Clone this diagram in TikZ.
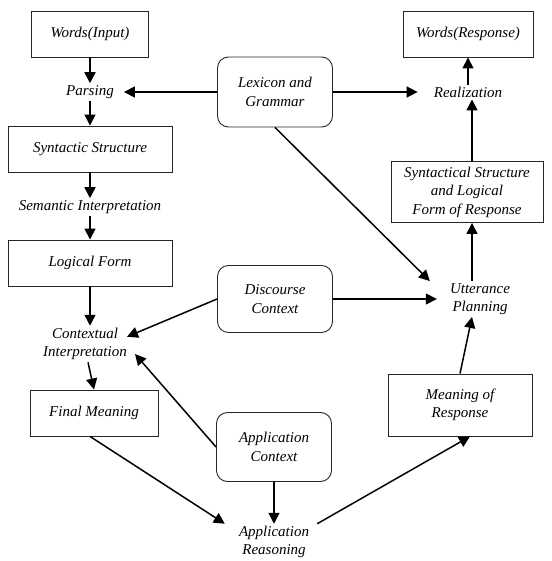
\documentclass[tikz,border=0pt]{standalone}
\usepackage{fontspec}
\setmainfont{Liberation Serif}
\usetikzlibrary{arrows.meta}
\tikzset{
  box/.style={draw=black!85, line width=0.9pt, minimum height=46pt, inner sep=2pt, align=center},
  soft/.style={box, rounded corners=11pt},
  txt/.style={align=center, inner xsep=8pt, inner ysep=2pt},
  flow/.style={-{Triangle[length=11pt,width=11pt]}, line width=1.5pt}
}
\begin{document}
\begin{tikzpicture}[x=1pt, y=-1pt, font=\fontsize{15}{18.5}\selectfont\itshape]
\useasboundingbox (0,0) rectangle (551,561);
\node[box, minimum width=117pt] (wordsin) at (90,34) {Words(Input)};
\node[txt] (parsing) at (90,92) {Parsing};
\node[box, minimum width=164pt] (synstruct) at (90,149) {Syntactic Structure};
\node[txt] (semint) at (90,207) {Semantic Interpretation};
\node[box, minimum width=164pt] (logform) at (90,263) {Logical Form};
\node[txt] (ctxint) at (85,344) {Contextual\\Interpretation};
\node[box, minimum width=128pt] (finalmean) at (94,413) {Final Meaning};
\node[soft, minimum width=115pt, minimum height=70pt] (lexgram) at (275,92) {Lexicon and\\Grammar};
\node[soft, minimum width=115pt, minimum height=67pt] (disctx) at (275,299) {Discourse\\Context};
\node[soft, minimum width=115pt, minimum height=69pt] (appctx) at (274,447) {Application\\Context};
\node[txt] (appreas) at (274,542) {Application\\Reasoning};
\node[box, minimum width=130pt] (wordsout) at (468,34) {Words(Response)};
\node[txt] (realize) at (468,92) {Realization};
\node[box, minimum width=152pt, minimum height=61pt] (synresp) at (467,192) {Syntactical Structure\\and Logical\\Form of Response};
\node[txt] (uttplan) at (480,299) {Utterance\\Planning};
\node[box, minimum width=144pt, minimum height=62pt] (meanresp) at (460,405) {Meaning of\\Response};

\draw[flow] (wordsin) -- (parsing);
\draw[flow] (parsing) -- (synstruct);
\draw[flow] (synstruct) -- (semint);
\draw[flow] (semint) -- (logform);
\draw[flow] (logform.south) -- (logform.south |- ctxint.north);
\draw[flow] ([xshift=3pt]ctxint.south) -- (finalmean.north);
\draw[flow] ([xshift=-4pt]finalmean.south) -- ([xshift=-6pt]appreas.north west);
\draw[flow] (appctx) -- (appreas);
\draw[flow] (appctx.west) -- ([yshift=-10pt]ctxint.east);
\draw[flow] (disctx.west) -- ([shift={(-8pt,-11pt)}]ctxint.north east);
\draw[flow, shorten >=2pt] (lexgram) -- (parsing);
\draw[flow, shorten >=8pt] (lexgram) -- (realize);
\draw[flow] (lexgram.south) -- ([xshift=-12pt]uttplan.north west);
\draw[flow, shorten >=5pt] (disctx) -- (uttplan);
\draw[flow] (realize) -- (wordsout);
\draw[flow] ([xshift=5pt]synresp.north) -- ([xshift=5pt]synresp.north |- realize.south);
\draw[flow] ([xshift=5pt]synresp.south |- uttplan.north) -- ([xshift=5pt]synresp.south);
\draw[flow] (meanresp.north) -- ([xshift=-8pt]uttplan.south);
\draw[flow] (appreas.north east) -- ([xshift=10pt]meanresp.south);
\end{tikzpicture}
\end{document}
